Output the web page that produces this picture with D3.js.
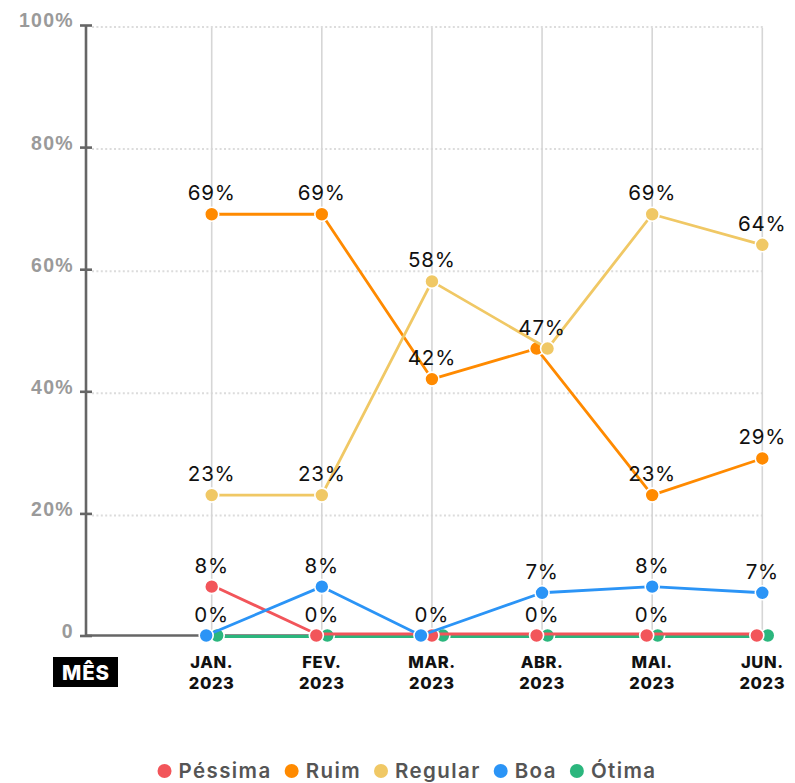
<!DOCTYPE html>
<html>
<head>
<meta charset="utf-8">
<script src="https://cdn.jsdelivr.net/npm/d3@7"></script>
<style>
  html, body { margin: 0; padding: 0; background: #fff; }
  svg { display: block; font-family: Inter, "Noto Sans", sans-serif; }
</style>
</head>
<body>
<svg id="chart" width="795" height="783"></svg>
<script>
// Monthly evaluation shares (%), Jan–Jun 2023
const months = ["JAN.", "FEV.", "MAR.", "ABR.", "MAI.", "JUN."];
const year = "2023";
const pessima = [8, 0, 0, 0, 0, 0];
const ruim    = [69, 69, 42, 47, 23, 29];
const regular = [23, 23, 58, 47, 69, 64];
const boa     = [0, 8, 0, 7, 8, 7];
const otima   = [0, 0, 0, 0, 0, 0];
const seriesNames = ["Péssima", "Ruim", "Regular", "Boa", "Ótima"];
const yTicks = [0, 20, 40, 60, 80, 100];
const yTickLabels = ["0", "20%", "40%", "60%", "80%", "100%"];
// value labels left out where they would crowd the last column
const hiddenLabels = [["JUN.", 0]];

const colors = {
  "Péssima": "#f2555a",
  "Ruim": "#ff8a00",
  "Regular": "#f0c865",
  "Boa": "#2b94f6",
  "Ótima": "#2bb67d"
};
const valuesByName = {
  "Péssima": pessima, "Ruim": ruim, "Regular": regular, "Boa": boa, "Ótima": otima
};
// painting order (later on top) and side-by-side order for coinciding points
const drawOrder = ["Ótima", "Péssima", "Ruim", "Regular", "Boa"];
const dodgeOrder = ["Boa", "Péssima", "Ruim", "Regular", "Ótima"];
const lineNudge = { "Péssima": -1.5, "Ótima": 1 };

const svg = d3.select("#chart");
const margin = { left: 86, top: 25, bottom: 635.5 };

const x = d3.scalePoint().domain(months).range([211.7, 762.3]);
const y = d3.scaleLinear().domain([0, 100]).range([margin.bottom, margin.top]);

// horizontal dotted grid
svg.append("g").selectAll("line")
  .data(yTicks.filter(t => t > 0))
  .join("line")
  .attr("x1", margin.left + 6).attr("x2", x(months[months.length - 1]) + 1)
  .attr("y1", d => y(d) + 2).attr("y2", d => y(d) + 2)
  .attr("stroke", "#dcdcdc").attr("stroke-width", 2)
  .attr("stroke-dasharray", "2 2.4");

// vertical month grid
svg.append("g").selectAll("line")
  .data(months)
  .join("line")
  .attr("x1", d => x(d)).attr("x2", d => x(d))
  .attr("y1", y(100) + 3).attr("y2", y(0))
  .attr("stroke", "#d6d6d6").attr("stroke-width", 1.6);

// y axis
const yAxis = d3.axisLeft(y)
  .tickValues(yTicks)
  .tickFormat((d, i) => yTickLabels[i])
  .tickSize(6)
  .tickPadding(8);
const gy = svg.append("g").attr("transform", `translate(${margin.left},0)`).call(yAxis);
gy.select(".domain").remove();
gy.append("line").attr("x1", 0).attr("x2", 0).attr("y1", y(100)).attr("y2", y(0))
  .attr("stroke", "#666").attr("stroke-width", 2.6);
gy.selectAll(".tick line").attr("x1", -6).attr("x2", 6)
  .attr("stroke", "#666").attr("stroke-width", 2.6);
gy.selectAll(".tick text")
  .attr("fill", "#9a9a9a").attr("font-size", 19.5).attr("font-weight", 700)
  .attr("letter-spacing", 1.3)
  .attr("dy", "0.1em").attr("x", -12);

// x baseline
svg.append("line")
  .attr("x1", margin.left).attr("x2", x(months[months.length - 1]))
  .attr("y1", y(0)).attr("y2", y(0))
  .attr("stroke", "#666").attr("stroke-width", 2.6);

// month labels
const xl = svg.append("g").selectAll("text").data(months).join("text")
  .attr("x", d => x(d)).attr("y", 668)
  .attr("text-anchor", "middle").attr("font-size", 16.5).attr("font-weight", 800)
  .attr("letter-spacing", 0.6)
  .attr("fill", "#111");
xl.append("tspan").attr("x", d => x(d)).text(d => d);
xl.append("tspan").attr("x", d => x(d)).attr("dy", 20.5).text(year);

// "MÊS" badge
const badge = svg.append("g").attr("transform", "translate(53,657)");
badge.append("rect").attr("width", 65).attr("height", 30).attr("fill", "#000");
badge.append("text").attr("x", 33).attr("y", 23)
  .attr("text-anchor", "middle").attr("fill", "#fff").attr("letter-spacing", 0.8)
  .attr("font-size", 20.5).attr("font-weight", 800).text("MÊS");

// point positions, spreading coinciding points sideways
const step = 11;
const pos = {};
seriesNames.forEach(n => pos[n] = []);
months.forEach((m, i) => {
  const groups = d3.group(dodgeOrder, n => valuesByName[n][i]);
  groups.forEach(members => {
    members.forEach((n, k) => {
      pos[n][i] = { x: x(m) + (k - (members.length - 1) / 2) * step, y: y(valuesByName[n][i]) };
    });
  });
});

const line = d3.line().x(d => d.x).y(d => d.y);
drawOrder.forEach(n => {
  const g = svg.append("g");
  const nudge = lineNudge[n] || 0;
  g.append("path")
    .datum(pos[n].map(p => ({ x: p.x, y: p.y + nudge })))
    .attr("d", line).attr("fill", "none")
    .attr("stroke", colors[n]).attr("stroke-width", 2.8)
    .attr("stroke-linejoin", "round");
  g.selectAll("circle").data(pos[n]).join("circle")
    .attr("cx", d => d.x).attr("cy", d => d.y).attr("r", 7)
    .attr("fill", colors[n]).attr("stroke", "#fff").attr("stroke-width", 1.6);
});

// value labels, one per distinct value in each month
const labels = [];
months.forEach((m, i) => {
  const seen = new Set();
  seriesNames.forEach(n => {
    const v = valuesByName[n][i];
    if (seen.has(v)) return;
    seen.add(v);
    if (hiddenLabels.some(h => h[0] === m && h[1] === v)) return;
    labels.push({ m, v });
  });
});
svg.append("g").selectAll("text").data(labels).join("text")
  .attr("x", d => x(d.m)).attr("y", d => y(d.v) - 14)
  .attr("text-anchor", "middle").attr("font-size", 20.5).attr("font-weight", 400)
  .attr("letter-spacing", 0.8)
  .attr("fill", "#111").text(d => d.v + "%");

// legend
const legendY = 771;
const legend = svg.append("g");
const items = legend.selectAll("g").data(seriesNames).join("g");
items.append("circle").attr("r", 7).attr("cy", legendY).attr("fill", n => colors[n]);
items.append("text").attr("x", 14).attr("y", legendY).attr("dy", "0.36em")
  .attr("font-size", 20.5).attr("font-weight", 600).attr("letter-spacing", 1.4)
  .attr("fill", "#555").text(n => n);
const widths = [];
items.each(function () { widths.push(this.getBBox().width); });
const gap = 13;
const total = d3.sum(widths) + gap * (widths.length - 1);
let cx = 407 - total / 2 + 7;
items.attr("transform", (d, i) => {
  const t = `translate(${cx},0)`;
  cx += widths[i] + gap;
  return t;
});
</script>
</body>
</html>
